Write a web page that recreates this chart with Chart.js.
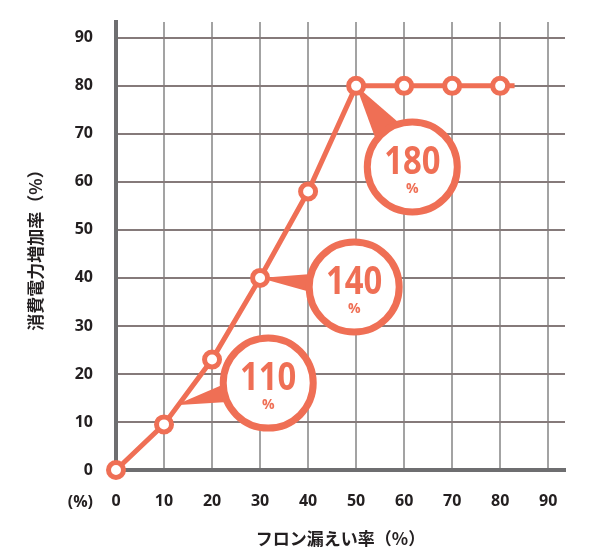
<!DOCTYPE html>
<html>
<head>
<meta charset="utf-8">
<script src="https://cdn.jsdelivr.net/npm/chart.js@4"></script>
<style>
  html, body { margin: 0; padding: 0; background: #fff; }
</style>
</head>
<body>
<canvas id="chart" width="593" height="559"></canvas>
<script>
// data
let leakRates = [0, 10, 20, 30, 40, 50, 60, 70, 80, 83];
let powerIncrease = [0, 9.5, 23, 40, 58, 80, 80, 80, 80, 80];
let xTicks = [0, 10, 20, 30, 40, 50, 60, 70, 80, 90];
let yTicks = [0, 10, 20, 30, 40, 50, 60, 70, 80, 90];
let calloutLabels = ["110", "140", "180"];

const coral = "#ef6f55";
const tickFont = { family: "'Open Sans', sans-serif", size: 16, weight: "bold" };
const titleFont = { family: "'Noto Sans CJK JP', sans-serif", size: 17, weight: "bold" };

// where the bubbles sit, in axis units
const callouts = [
    { x: 31.7, y: 18.1, tipX: 12.3, tipY: 13.5, spread: 0.2 },
    { x: 49.6, y: 38.1, tipX: 30, tipY: 40, spread: 0.2 },
    { x: 61.7, y: 63.1, tipX: 50, tipY: 80, spread: 0.33 },
];

const calloutPlugin = {
    id: "callouts",
    beforeDatasetsDraw(chart) {
        const ctx = chart.ctx;
        const xs = chart.scales.x;
        const ys = chart.scales.y;
        callouts.forEach((c, i) => {
            let cx = xs.getPixelForValue(c.x);
            let cy = ys.getPixelForValue(c.y);
            let tx = xs.getPixelForValue(c.tipX);
            let ty = ys.getPixelForValue(c.tipY);
            let r = 45;
            let ang = Math.atan2(ty - cy, tx - cx);
            ctx.save();
            // pointer
            ctx.fillStyle = coral;
            ctx.beginPath();
            ctx.moveTo(tx, ty);
            ctx.lineTo(cx + r * Math.cos(ang - c.spread), cy + r * Math.sin(ang - c.spread));
            ctx.lineTo(cx + r * Math.cos(ang + c.spread), cy + r * Math.sin(ang + c.spread));
            ctx.closePath();
            ctx.fill();
            // ring
            ctx.beginPath();
            ctx.arc(cx, cy, r, 0, Math.PI * 2);
            ctx.fillStyle = "#fff";
            ctx.fill();
            ctx.lineWidth = 7;
            ctx.strokeStyle = coral;
            ctx.stroke();
            // text, squeezed a little to look condensed
            ctx.fillStyle = coral;
            ctx.textAlign = "center";
            ctx.textBaseline = "middle";
            ctx.save();
            ctx.translate(cx, cy - 4);
            ctx.scale(0.82, 1);
            ctx.font = "bold 40px 'Open Sans', sans-serif";
            ctx.fillText(calloutLabels[i], 0, 0);
            ctx.restore();
            ctx.font = "bold 14px 'Open Sans', sans-serif";
            ctx.fillText("%", cx, cy + 22);
            ctx.restore();
        });
    },
    afterDraw(chart) {
        // the "(%)" unit left of the x tick labels
        const ctx = chart.ctx;
        ctx.save();
        ctx.fillStyle = "#231f20";
        ctx.font = "bold 16px 'Open Sans', sans-serif";
        ctx.textAlign = "right";
        ctx.textBaseline = "middle";
        ctx.fillText("(%)", chart.chartArea.left - 23, chart.chartArea.bottom + 32);
        ctx.restore();
    },
};

new Chart(document.getElementById("chart"), {
    type: "line",
    data: {
        datasets: [
            {
                data: leakRates.map((x, i) => ({ x: x, y: powerIncrease[i] })),
                borderColor: coral,
                borderWidth: 5,
                tension: 0,
                clip: false,
                pointRadius: leakRates.map((x, i) => (i === leakRates.length - 1 ? 0 : 7.5)),
                pointBackgroundColor: "#fff",
                pointBorderColor: coral,
                pointBorderWidth: 5,
            },
        ],
    },
    options: {
        responsive: false,
        animation: false,
        layout: { padding: { left: 0, right: 28, top: 22, bottom: 0 } },
        plugins: { legend: { display: false }, tooltip: { enabled: false } },
        scales: {
            x: {
                type: "linear",
                min: 0,
                max: 93.5,
                afterBuildTicks: (s) => { s.ticks = xTicks.map((v) => ({ value: v })); },
                afterFit: (s) => {
                    s.height = 89;
                    s.paddingLeft = 0;
                    s.paddingRight = 0;
                },
                grid: { color: "#a3a3a3", lineWidth: 2, drawTicks: false },
                border: { color: "#6e6e70", width: 4 },
                ticks: { padding: 22, color: "#231f20", font: tickFont },
                title: {
                    display: true,
                    text: "フロン漏えい率（%）",
                    color: "#231f20",
                    font: titleFont,
                    padding: { top: 0, bottom: 10 },
                },
            },
            y: {
                min: 0,
                max: 93.3,
                afterBuildTicks: (s) => { s.ticks = yTicks.map((v) => ({ value: v })); },
                afterFit: (s) => {
                    s.width = 116;
                    s.paddingTop = 0;
                    s.paddingBottom = 0;
                },
                grid: { color: "#857a7a", lineWidth: 2, drawTicks: false },
                border: { color: "#6e6e70", width: 4 },
                ticks: { padding: 23, color: "#231f20", font: tickFont },
                title: {
                    display: true,
                    text: "消費電力増加率（%）",
                    color: "#231f20",
                    font: titleFont,
                    padding: { top: 25, bottom: 0 },
                },
            },
        },
    },
    plugins: [calloutPlugin],
});
</script>
</body>
</html>
